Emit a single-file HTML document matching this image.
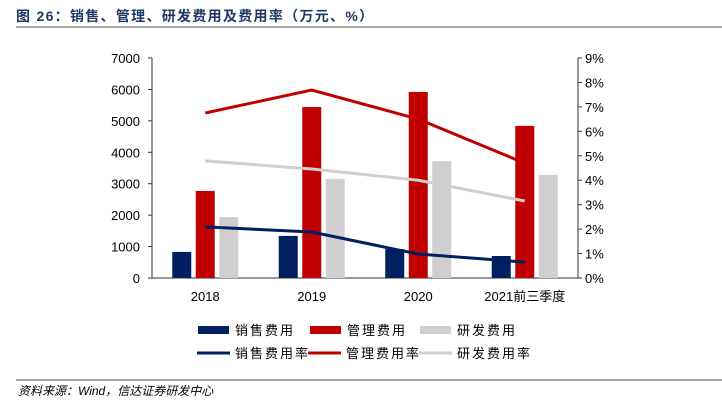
<!DOCTYPE html>
<html><head><meta charset="utf-8"><style>
body{margin:0;width:722px;height:404px;background:#fff;overflow:hidden;font-family:"Liberation Sans","Noto Sans CJK SC",sans-serif;}
</style></head><body>
<svg id="c" width="722" height="404" xmlns="http://www.w3.org/2000/svg">
<text x="16" y="21" font-size="14" font-weight="bold" fill="#1f3864" letter-spacing="1.3" font-family="Liberation Sans,Noto Sans CJK SC,sans-serif">图 26：销售、管理、研发费用及费用率（万元、%）</text>
<line x1="16" y1="27" x2="722" y2="27" stroke="#555" stroke-width="1"/>
<line x1="16" y1="380" x2="722" y2="380" stroke="#888" stroke-width="1.5"/>
<text x="18" y="395" font-size="12" font-style="italic" fill="#000" font-family="Liberation Sans,Noto Sans CJK SC,sans-serif">资料来源：Wind，信达证券研发中心</text>
<g id="plot"></g>
</svg>
<script>
const categories=["2018","2019","2020","2021前三季度"];
const salesExp=[830,1340,920,700];
const mgmtExp=[2770,5440,5920,4840];
const rdExp=[1940,3150,3720,3280];
const salesRate=[2.09,1.88,0.98,0.65];
const mgmtRate=[6.75,7.69,6.5,4.7];
const rdRate=[4.79,4.46,4.0,3.15];
const leftTicks=[0,1000,2000,3000,4000,5000,6000,7000];
const rightTicks=[0,1,2,3,4,5,6,7,8,9];
const NS="http://www.w3.org/2000/svg";
const g=document.getElementById('plot');
const X0=152,X1=578,Y0=278,Y1=58;
const yL=v=>Y0-(v/7000)*(Y0-Y1);
const yR=v=>Y0-(v/9)*(Y0-Y1);
const band=(X1-X0)/categories.length;
const xC=i=>X0+band*(i+0.5);
function mk(t,a){const e=document.createElementNS(NS,t);for(const k in a)e.setAttribute(k,a[k]);g.appendChild(e);return e;}
const cols={s:"#002060",m:"#c00000",r:"#d0cece"};
let e=mk('line',{x1:X0,y1:Y1,x2:X0,y2:Y0,stroke:"#333"});


e=mk('line',{x1:X1,y1:Y1,x2:X1,y2:Y0,stroke:"#333"});


e=mk('line',{x1:X0,y1:Y0,x2:X1,y2:Y0,stroke:"#333"});


leftTicks.forEach(v=>{
  mk('line',{x1:X0-4,y1:yL(v),x2:X0,y2:yL(v),stroke:"#333"});
  const t=mk('text',{x:X0-12,y:yL(v)+5,'font-size':13,'text-anchor':'end',fill:'#000'});t.textContent=v;
  
  
});
rightTicks.forEach(v=>{
  mk('line',{x1:X1,y1:yR(v),x2:X1+4,y2:yR(v),stroke:"#333"});
  const t=mk('text',{x:X1+7,y:yR(v)+5,'font-size':13,fill:'#000'});t.textContent=v+'%';
  
  
});
categories.forEach((c,i)=>{
  const t=mk('text',{x:xC(i),y:Y0+23,'font-size':13,'text-anchor':'middle',fill:'#000'});t.textContent=c;
  
  
  [[salesExp,cols.s,-1,'bar-sales'],[mgmtExp,cols.m,0,'bar-mgmt'],[rdExp,cols.r,1,'bar-rd']].forEach(([arr,col,o,n])=>{
    const b=mk('rect',{x:xC(i)+o*23.5-9.5,y:yL(arr[i]),width:19,height:Y0-yL(arr[i]),fill:col});
    
    
  });
});
[[rdRate,cols.r,'line-rd-rate'],[salesRate,cols.s,'line-sales-rate'],[mgmtRate,cols.m,'line-mgmt-rate']].forEach(([arr,col,n])=>{
  const p=mk('polyline',{points:arr.map((v,i)=>xC(i)+','+yR(v)).join(' '),fill:'none',stroke:col,'stroke-width':3});
  
  
});
const leg=[[198,330,cols.s,'销售费用',0],[310,330,cols.m,'管理费用',0],[420,330,cols.r,'研发费用',0],[197,353,cols.s,'销售费用率',1],[308,353,cols.m,'管理费用率',1],[419,353,cols.r,'研发费用率',1]];
leg.forEach(([x,y,col,txt,ln])=>{
  const s=ln?mk('line',{x1:x,y1:y,x2:x+33,y2:y,stroke:col,'stroke-width':3}):mk('rect',{x:x,y:y-4,width:31,height:8,fill:col});
  
  
  const t=mk('text',{x:x+(ln?38:37),y:y+5,'font-size':13,fill:'#000','letter-spacing':'2'});
  t.textContent=txt;
  
  
});
</script>
</body></html>
